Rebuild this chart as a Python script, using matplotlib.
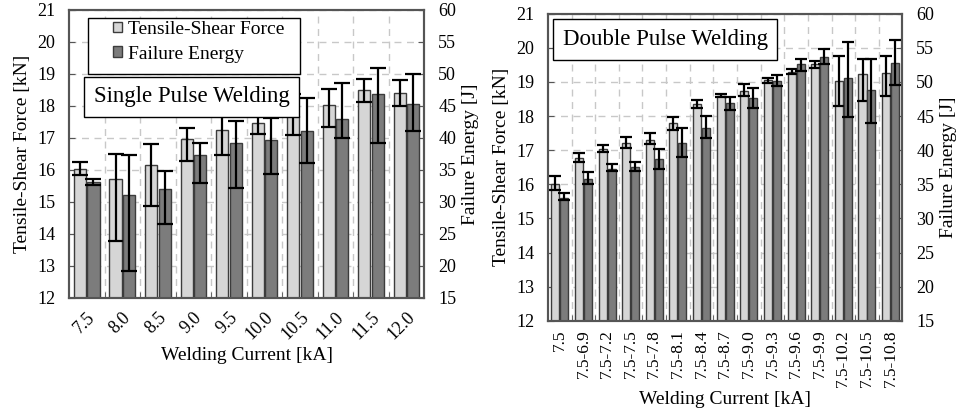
import numpy as np
import matplotlib
matplotlib.use("Agg")
import matplotlib.pyplot as plt
from matplotlib.patches import Patch, Rectangle

plt.rcParams['font.family'] = ['Liberation Serif', 'DejaVu Serif']

# single pulse welding
sp_current = ['7.5', '8.0', '8.5', '9.0', '9.5', '10.0', '10.5', '11.0', '11.5', '12.0']
sp_force = [16.03, 15.72, 16.14, 16.97, 17.24, 17.47, 17.67, 18.04, 18.51, 18.41]
sp_force_lo = [0.20, 1.95, 1.28, 0.68, 0.76, 0.35, 0.57, 0.71, 0.39, 0.42]
sp_force_hi = [0.21, 0.79, 0.67, 0.34, 0.76, 0.35, 0.71, 0.50, 0.33, 0.41]
sp_energy = [33.1, 31.0, 32.05, 37.25, 39.2, 39.6, 41.15, 43.0, 46.9, 45.35]
sp_energy_lo = [0.5, 11.85, 5.5, 4.3, 7.1, 5.2, 5.15, 3.0, 7.7, 4.2]
sp_energy_hi = [0.5, 6.25, 2.85, 1.95, 3.4, 3.5, 5.1, 5.6, 4.05, 4.65]

# double pulse welding
dp_current = ['7.5', '7.5-6.9', '7.5-7.2', '7.5-7.5', '7.5-7.8', '7.5-8.1', '7.5-8.4', '7.5-8.7',
              '7.5-9.0', '7.5-9.3', '7.5-9.6', '7.5-9.9', '7.5-10.2', '7.5-10.5', '7.5-10.8']
dp_force = [16.02, 16.78, 17.04, 17.22, 17.30, 17.80, 18.35, 18.60, 18.73, 19.05, 19.29, 19.51, 19.03, 19.22, 19.27]
dp_force_lo = [0.19, 0.13, 0.09, 0.16, 0.13, 0.22, 0.12, 0.05, 0.14, 0.07, 0.07, 0.11, 0.73, 0.78, 0.68]
dp_force_hi = [0.23, 0.13, 0.10, 0.17, 0.19, 0.17, 0.12, 0.05, 0.22, 0.07, 0.10, 0.10, 0.73, 0.46, 0.49]
dp_energy = [33.05, 35.75, 37.3, 37.6, 38.65, 41.1, 43.3, 46.95, 47.6, 50.15, 52.55, 53.7, 50.5, 48.75, 52.8]
dp_energy_lo = [0.4, 0.75, 0.35, 0.65, 1.45, 2.1, 1.45, 1.05, 1.35, 0.75, 0.95, 1.05, 5.65, 4.7, 3.25]
dp_energy_hi = [0.65, 1.1, 0.65, 0.65, 1.55, 2.1, 1.7, 0.85, 1.45, 0.8, 0.75, 1.15, 5.4, 4.65, 3.3]

LIGHT = '#d6d6d6'
DARK = '#7c7c7c'
EDGE = '#3c3c3c'
SPINE = '#555555'
TICK_FS = 13
LABEL_FS = 14


def panel(rect, cats, force, f_lo, f_hi, energy, e_lo, e_hi, title, rot, capsize, legend):
    ax = fig.add_axes(rect)
    ax2 = ax.twinx()
    x = np.arange(len(cats))
    w = 0.34
    off = 0.19
    ax.bar(x - off, force, w, color=LIGHT, edgecolor=EDGE, linewidth=1.0, zorder=2)
    ax.errorbar(x - off, force, yerr=[f_lo, f_hi], fmt='none', ecolor='black',
                elinewidth=1.6, capsize=capsize, capthick=1.6, zorder=3)
    ax2.bar(x + off, energy, w, color=DARK, edgecolor=EDGE, linewidth=1.0, zorder=2)
    ax2.errorbar(x + off, energy, yerr=[e_lo, e_hi], fmt='none', ecolor='black',
                 elinewidth=1.6, capsize=capsize, capthick=1.6, zorder=3)

    ax.set_xlim(-0.5, len(cats) - 0.5)
    ax.set_ylim(12, 21)
    ax2.set_ylim(15, 60)
    ax.set_yticks(range(12, 22))
    ax2.set_yticks(range(15, 61, 5))
    ax.set_xticks(x)
    if rot == 45:
        ax.set_xticklabels(cats, rotation=45, ha='right', va='top', rotation_mode='anchor')
        xfs, xpad = 13, 8
    else:
        ax.set_xticklabels(cats, rotation=90, ha='center', va='top')
        xfs, xpad = 12.5, 6
    ax.set_xticks(np.arange(len(cats) - 1) + 0.5, minor=True)
    ax.tick_params(axis='x', which='major', length=0, labelsize=xfs, pad=xpad)
    ax.tick_params(axis='x', which='minor', direction='in', length=4, color=SPINE)
    ax.tick_params(axis='y', direction='in', length=4, labelsize=TICK_FS, color=SPINE, pad=10)
    ax2.tick_params(axis='y', direction='in', length=4, labelsize=TICK_FS, color=SPINE, pad=10)

    ax.grid(True, axis='y', which='major', color='#c8c8c8', linestyle=(0, (5, 4)), linewidth=1.0, zorder=0)
    ax.grid(True, axis='x', which='minor', color='#c8c8c8', linestyle=(0, (5, 4)), linewidth=1.0, zorder=0)
    ax.set_axisbelow(True)
    for a in (ax, ax2):
        for s in a.spines.values():
            s.set_color(SPINE)
            s.set_linewidth(1.5)

    ax.set_ylabel('Tensile-Shear Force [kN]', fontsize=LABEL_FS, labelpad=4)
    ax2.set_ylabel('Failure Energy [J]', fontsize=LABEL_FS, labelpad=4)
    ax.set_xlabel('Welding Current [kA]', fontsize=LABEL_FS, labelpad=3)

    box = dict(boxstyle='square,pad=0.42', facecolor='white', edgecolor='black', linewidth=1.0)
    if legend:
        ax2.add_patch(Rectangle((0.0535, 0.778), 0.597, 0.194, transform=ax2.transAxes,
                                facecolor='white', edgecolor='black', linewidth=1.0, zorder=8))
        handles = [Patch(facecolor=LIGHT, edgecolor=EDGE, label='Tensile-Shear Force'),
                   Patch(facecolor=DARK, edgecolor=EDGE, label='Failure Energy')]
        leg = ax2.legend(handles=handles, loc='upper left', bbox_to_anchor=(0.125, 0.962),
                         fontsize=14, frameon=False, handlelength=0.45,
                         handleheight=0.45, handletextpad=0.3, borderpad=0, labelspacing=0.4,
                         borderaxespad=0)
        leg.set_zorder(9)
        ax2.text(0.07, 0.735, title, transform=ax2.transAxes, fontsize=16.5, va='top', ha='left',
                 zorder=10, bbox=box)
    else:
        ax2.text(0.042, 0.95, title, transform=ax2.transAxes, fontsize=16.5, va='top', ha='left',
                 zorder=10, bbox=box)
    return ax, ax2


fig = plt.figure(figsize=(9.58, 4.12), dpi=100)
panel([0.072, 0.277, 0.371, 0.699], sp_current, sp_force, sp_force_lo, sp_force_hi,
      sp_energy, sp_energy_lo, sp_energy_hi, 'Single Pulse Welding', 45, 6, True)
panel([0.572, 0.221, 0.370, 0.746], dp_current, dp_force, dp_force_lo, dp_force_hi,
      dp_energy, dp_energy_lo, dp_energy_hi, 'Double Pulse Welding', 90, 4.5, False)

fig.savefig('out.png', dpi=100)
